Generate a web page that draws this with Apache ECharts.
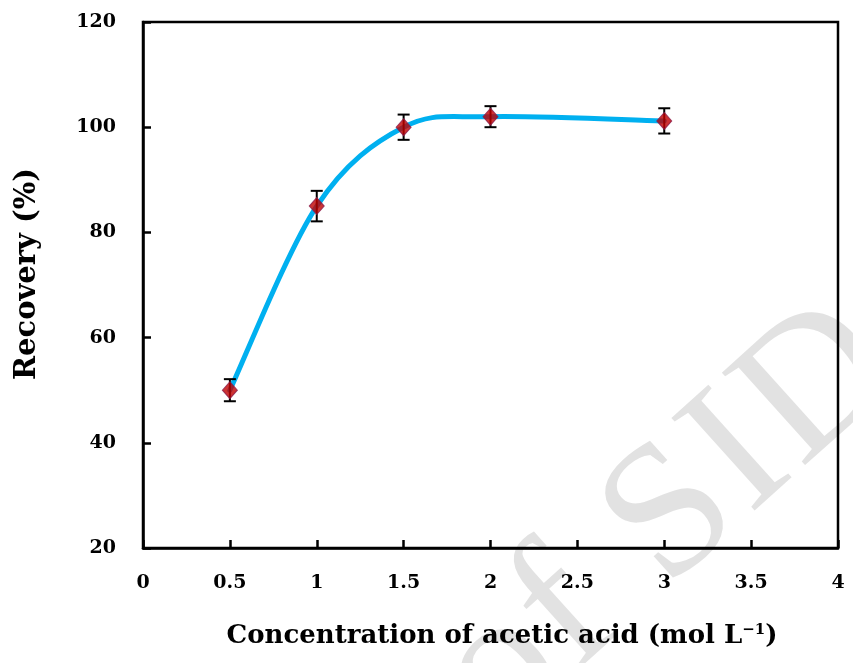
<!DOCTYPE html>
<html>
<head>
<meta charset="utf-8">
<script src="https://cdn.jsdelivr.net/npm/echarts@6/dist/echarts.min.js"></script>
<style>
  html, body { margin: 0; padding: 0; background: #fff; }
  #chart { width: 853px; height: 663px; }
</style>
</head>
<body>
<div id="chart"></div>
<script>
// Acetic acid concentration (mol L-1) vs. recovery (%)
const concentration = [0.5, 1, 1.5, 2, 3];
const recovery = [50, 85, 100, 102, 101.2];
const errorSD = [2.1, 2.9, 2.4, 2.0, 2.4];
const xTicks = [0, 0.5, 1, 1.5, 2, 2.5, 3, 3.5, 4];
const yTicks = [20, 40, 60, 80, 100, 120];

const points = concentration.map((c, i) => [c, recovery[i]]);
const errorBars = concentration.map((c, i) => [c, recovery[i] - errorSD[i], recovery[i] + errorSD[i]]);

const labelFont = {
  fontFamily: 'DejaVu Serif, Liberation Serif, serif',
  fontWeight: 'bold',
  color: '#000'
};

// Smoothed curve through the measured points (cardinal spline, tension 1/6)
function smoothPath(api) {
  const p = points.map(d => api.coord(d));
  let d = 'M' + p[0][0] + ' ' + p[0][1];
  for (let i = 0; i < p.length - 1; i++) {
    const p0 = p[Math.max(i - 1, 0)];
    const p1 = p[i];
    const p2 = p[i + 1];
    const p3 = p[Math.min(i + 2, p.length - 1)];
    const c1 = [p1[0] + (p2[0] - p0[0]) / 6, p1[1] + (p2[1] - p0[1]) / 6];
    const c2 = [p2[0] - (p3[0] - p1[0]) / 6, p2[1] - (p3[1] - p1[1]) / 6];
    d += ' C' + c1[0] + ' ' + c1[1] + ' ' + c2[0] + ' ' + c2[1] + ' ' + p2[0] + ' ' + p2[1];
  }
  return d;
}

// Diagonal archive stamp: letters laid along a slanted baseline
function buildStamp() {
  const text = 'Archive of SID';
  const size = 190, track = 6, angle = 42 * Math.PI / 180;
  const ctx = document.createElement('canvas').getContext('2d');
  ctx.font = size + 'px "Liberation Serif"';
  const widths = text.split('').map(ch => ctx.measureText(ch).width);
  const sIdx = text.indexOf('S');
  const starts = [];
  let pos = 0;
  for (let i = 0; i < text.length; i++) { starts.push(pos); pos += widths[i] + track; }
  const shift = starts[sIdx];
  // centre of the "S"
  const target = [672, 517];
  const lx = widths[sIdx] / 2, ly = -0.34 * size;
  const c = Math.cos(angle), s = Math.sin(angle);
  const px = target[0] - (lx * c + ly * s);
  const py = target[1] - (-lx * s + ly * c);
  const chars = text.split('').map((ch, i) => ({
    type: 'text',
    x: starts[i] - shift,
    y: -0.3375 * size,
    style: {
      text: ch,
      fontFamily: 'Liberation Serif, serif',
      fontSize: size,
      align: 'left',
      verticalAlign: 'middle',
      fill: 'rgba(190,190,190,0.45)'
    }
  }));
  return {
    type: 'group',
    x: px, y: py,
    rotation: angle,
    z: 5,
    silent: true,
    children: chars
  };
}

const chart = echarts.init(document.getElementById('chart'));
chart.setOption({
  animation: false,
  backgroundColor: '#fff',
  graphic: [buildStamp()],
  grid: { left: 143, top: 22, width: 695, height: 526, containLabel: false },
  xAxis: {
    type: 'value',
    min: xTicks[0],
    max: xTicks[xTicks.length - 1],
    interval: 0.5,
    position: 'bottom',
    axisLine: { show: true, lineStyle: { color: '#000', width: 2.5 } },
    axisTick: { show: true, inside: true, length: 8, lineStyle: { color: '#000', width: 2.5 } },
    axisLabel: Object.assign({ fontSize: 19, margin: 26 }, labelFont),
    splitLine: { show: false },
    name: '{t|Concentration of acetic acid (mol L}{s|−1}{t|)}',
    nameLocation: 'middle',
    nameGap: 75,
    nameTextStyle: {
      padding: [0, 0, 0, 23],
      rich: {
        t: Object.assign({ fontSize: 26 }, labelFont),
        s: Object.assign({ fontSize: 15, verticalAlign: 'top', padding: [0, 0, 11, 0] }, labelFont)
      }
    }
  },
  yAxis: {
    type: 'value',
    min: yTicks[0],
    max: yTicks[yTicks.length - 1],
    interval: 20,
    axisLine: { show: true, lineStyle: { color: '#000', width: 2.5 } },
    axisTick: { show: true, inside: true, length: 8, lineStyle: { color: '#000', width: 2.5 } },
    axisLabel: Object.assign({ fontSize: 19, margin: 27 }, labelFont),
    splitLine: { show: false },
    name: 'Recovery (%)',
    nameLocation: 'middle',
    nameGap: 101,
    nameTextStyle: Object.assign({ fontSize: 29, padding: [0, 0, 0, 22] }, labelFont)
  },
  series: [
    {
      // plot frame drawn over everything
      type: 'custom',
      silent: true,
      z: 10,
      renderItem: function (params, api) {
        const tl = api.coord([xTicks[0], yTicks[yTicks.length - 1]]);
        const br = api.coord([xTicks[xTicks.length - 1], yTicks[0]]);
        return {
          type: 'rect',
          shape: { x: tl[0], y: tl[1], width: br[0] - tl[0], height: br[1] - tl[1] },
          style: { fill: 'none', stroke: '#000', lineWidth: 2.5 }
        };
      },
      data: [[0, 0]]
    },
    {
      type: 'custom',
      silent: true,
      z: 2,
      renderItem: function (params, api) {
        if (params.dataIndex !== 0) return null;
        return {
          type: 'path',
          shape: { pathData: smoothPath(api) },
          style: { fill: 'none', stroke: '#00b0f0', lineWidth: 5, lineJoin: 'round', lineCap: 'round' }
        };
      },
      data: points
    },
    {
      type: 'custom',
      z: 3,
      renderItem: function (params, api) {
        const x = api.value(0);
        const lo = api.coord([x, api.value(1)]);
        const hi = api.coord([x, api.value(2)]);
        const cap = 6;
        const style = { stroke: '#000', lineWidth: 2 };
        return {
          type: 'group',
          children: [
            { type: 'line', shape: { x1: lo[0], y1: lo[1], x2: hi[0], y2: hi[1] }, style: style },
            { type: 'line', shape: { x1: lo[0] - cap, y1: lo[1], x2: lo[0] + cap, y2: lo[1] }, style: style },
            { type: 'line', shape: { x1: hi[0] - cap, y1: hi[1], x2: hi[0] + cap, y2: hi[1] }, style: style }
          ]
        };
      },
      data: errorBars
    },
    {
      type: 'scatter',
      data: points,
      symbol: 'diamond',
      symbolSize: [15, 17],
      itemStyle: { color: '#c00000', borderColor: '#8a1a4a', borderWidth: 1 },
      z: 4
    }
  ]
});
</script>
</body>
</html>
